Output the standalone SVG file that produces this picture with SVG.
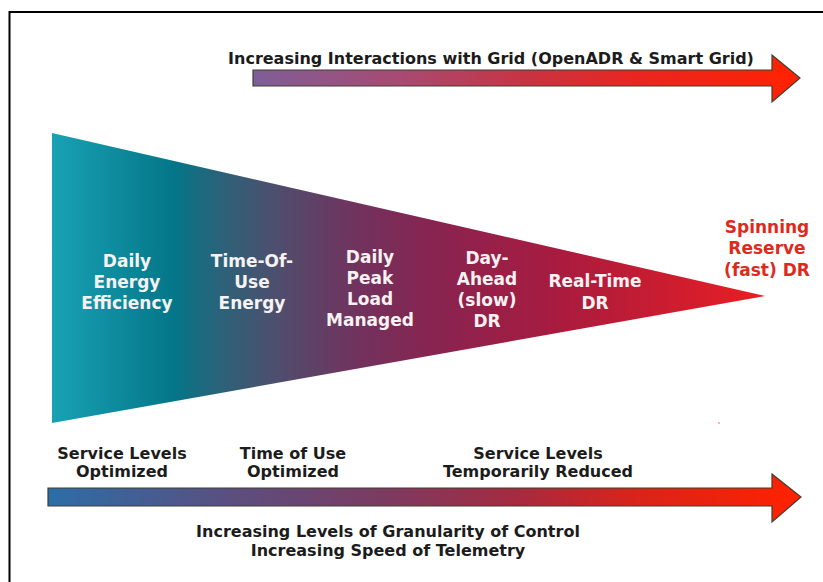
<svg xmlns="http://www.w3.org/2000/svg" width="823" height="582" viewBox="0 0 823 582">
  <defs>
    <linearGradient id="gTri" gradientUnits="userSpaceOnUse" x1="52" y1="0" x2="765" y2="0">
      <stop offset="0" stop-color="#18a2b4"/>
      <stop offset="0.17" stop-color="#047689"/>
      <stop offset="0.24" stop-color="#2d6178"/>
      <stop offset="0.32" stop-color="#504d6d"/>
      <stop offset="0.42" stop-color="#6f345f"/>
      <stop offset="0.53" stop-color="#872451"/>
      <stop offset="0.71" stop-color="#a91b3f"/>
      <stop offset="1" stop-color="#ea1e22"/>
    </linearGradient>
    <linearGradient id="gTop" gradientUnits="userSpaceOnUse" x1="253" y1="0" x2="800" y2="0">
      <stop offset="0" stop-color="#7e5e98"/>
      <stop offset="0.27" stop-color="#a84a72"/>
      <stop offset="0.5" stop-color="#c83342"/>
      <stop offset="0.7" stop-color="#ea2520"/>
      <stop offset="1" stop-color="#ff2200"/>
    </linearGradient>
    <linearGradient id="gBot" gradientUnits="userSpaceOnUse" x1="48" y1="0" x2="801" y2="0">
      <stop offset="0" stop-color="#2c6ea6"/>
      <stop offset="0.24" stop-color="#5a4f80"/>
      <stop offset="0.45" stop-color="#7c3a60"/>
      <stop offset="0.62" stop-color="#a52a40"/>
      <stop offset="0.78" stop-color="#d8241a"/>
      <stop offset="1" stop-color="#ff2200"/>
    </linearGradient>
  </defs>
  <style>
    .arrow { stroke: #3f3f30; stroke-width: 1.2; stroke-linejoin: miter; }
    .dark { font-family: "DejaVu Sans", "Liberation Sans", sans-serif; font-weight: bold; font-size: 16px; fill: #1c1c1c; text-anchor: middle; }
    .white { font-family: "DejaVu Sans", "Liberation Sans", sans-serif; font-weight: bold; font-size: 17px; fill: #f6f2f2; text-anchor: middle; }
    .red { font-family: "DejaVu Sans", "Liberation Sans", sans-serif; font-weight: bold; font-size: 17px; fill: #dd2a1c; text-anchor: middle; }
  </style>
  <rect width="823" height="582" fill="#ffffff"/>
  <path d="M9.5 582 V12 H823" fill="none" stroke="#000" stroke-width="2"/>

  <g id="connectors">
    <path class="arrow" fill="url(#gTop)" d="M253 70 H772 V55 L800 78 L772 102 V86 H253 Z"/>
    <path class="arrow" fill="url(#gBot)" d="M48 488 H772 V474 L801 497 L772 522 V506 H48 Z"/>
  </g>

  <g id="funnel">
    <path d="M52 133 L765 296 L52 423 Z" fill="url(#gTri)"/>
  </g>

  <g id="label-top">
    <text class="dark" x="491" y="64" font-size="15">Increasing Interactions with Grid (OpenADR &amp; Smart Grid)</text>
  </g>

  <g id="node-daily-energy-efficiency">
    <text class="white" x="127" y="267">Daily</text>
    <text class="white" x="127" y="288">Energy</text>
    <text class="white" x="127" y="309">Efficiency</text>
  </g>
  <g id="node-time-of-use-energy">
    <text class="white" x="252" y="267">Time-Of-</text>
    <text class="white" x="252" y="288">Use</text>
    <text class="white" x="252" y="309">Energy</text>
  </g>
  <g id="node-daily-peak-load">
    <text class="white" x="370" y="263">Daily</text>
    <text class="white" x="370" y="284">Peak</text>
    <text class="white" x="370" y="305">Load</text>
    <text class="white" x="370" y="326">Managed</text>
  </g>
  <g id="node-day-ahead">
    <text class="white" x="487" y="264">Day-</text>
    <text class="white" x="487" y="285">Ahead</text>
    <text class="white" x="487" y="306">(slow)</text>
    <text class="white" x="487" y="327">DR</text>
  </g>
  <g id="node-real-time">
    <text class="white" x="595" y="287">Real-Time</text>
    <text class="white" x="595" y="309">DR</text>
  </g>
  <g id="node-spinning-reserve">
    <text class="red" x="767" y="233">Spinning</text>
    <text class="red" x="767" y="254">Reserve</text>
    <text class="red" x="767" y="276">(fast) DR</text>
  </g>

  <g id="label-service-optimized">
    <text class="dark" x="122" y="459">Service Levels</text>
    <text class="dark" x="122" y="477">Optimized</text>
  </g>
  <g id="label-tou-optimized">
    <text class="dark" x="293" y="459">Time of Use</text>
    <text class="dark" x="293" y="477">Optimized</text>
  </g>
  <g id="label-service-reduced">
    <text class="dark" x="538" y="459">Service Levels</text>
    <text class="dark" x="538" y="477">Temporarily Reduced</text>
  </g>
  <g id="label-bottom">
    <text class="dark" x="388" y="537">Increasing Levels of Granularity of Control</text>
    <text class="dark" x="388" y="556">Increasing Speed of Telemetry</text>
  </g>
  <circle cx="719" cy="423" r="1" fill="#f4a08a"/>
</svg>
